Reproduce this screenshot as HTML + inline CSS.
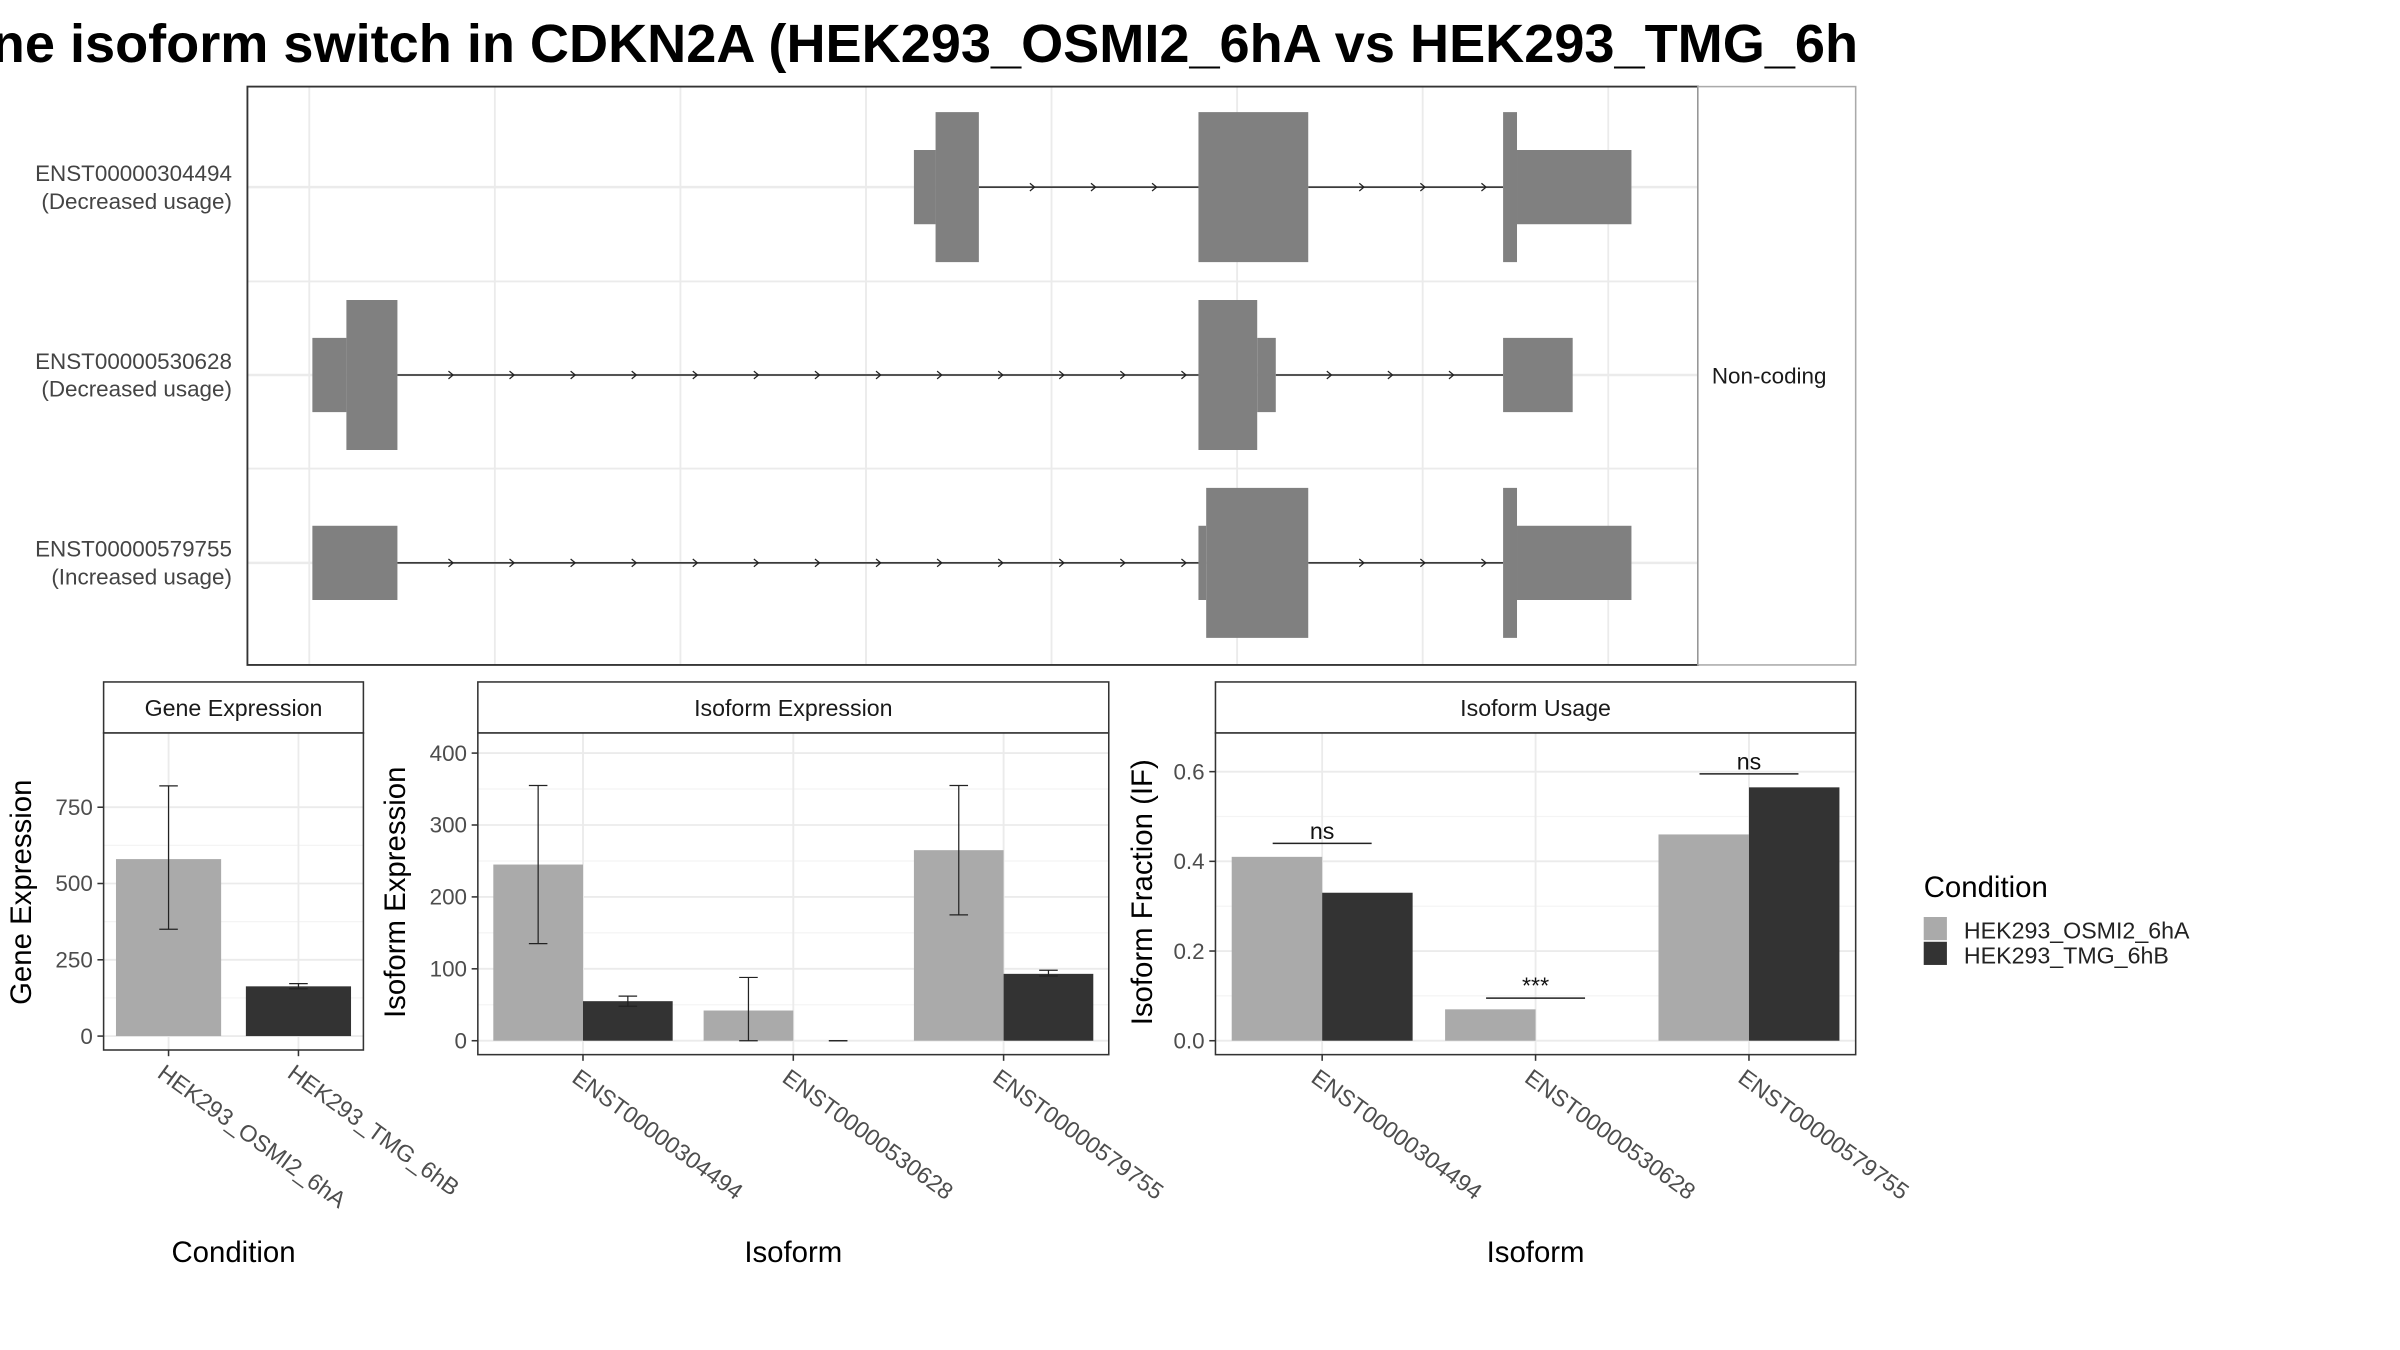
<!DOCTYPE html>
<html><head><meta charset="utf-8"><style>
html,body{margin:0;padding:0;background:#fff;}
svg{display:block;font-family:"Liberation Sans",sans-serif;}
</style></head><body>
<svg id="c" width="2400" height="1350" viewBox="0 0 1552 873">
<text x="-52" y="40" font-size="35" font-weight="bold" fill="#000">Gene isoform switch in CDKN2A (HEK293_OSMI2_6hA vs HEK293_TMG_6h</text>
<g id="topPanel"></g>
<g id="bot"></g>
<g>
<text x="1244" y="580" font-size="19" fill="#000">Condition</text>
<rect x="1244" y="593" width="15" height="15" fill="#aaaaaa"/>
<rect x="1244" y="609" width="15" height="15" fill="#333333"/>
<text x="1270" y="607" font-size="15" fill="#222">HEK293_OSMI2_6hA</text>
<text x="1270" y="623" font-size="15" fill="#222">HEK293_TMG_6hB</text>
</g>
</svg>
<script>
const NS="http://www.w3.org/2000/svg";
function mk(p,t,a,txt){const e=document.createElementNS(NS,t);for(const k in a)e.setAttribute(k,a[k]);if(txt!=null)e.textContent=txt;p.appendChild(e);return e;}
const transcripts=["ENST00000304494","ENST00000530628","ENST00000579755"];
const usageLabels=["(Decreased usage)","(Decreased usage)","(Increased usage)"];
const exons=[
 [[591,605,0],[605,633,1],[775,846,1],[972,981,1],[981,1055,0]],
 [[202,224,0],[224,257,1],[775,813,1],[813,825,0],[972,1017,0]],
 [[202,257,0],[775,780,0],[780,846,1],[972,981,1],[981,1055,0]]
];
const geneCats=["HEK293_OSMI2_6hA","HEK293_TMG_6hB"];
const geneVals=[580,163];
const geneLo=[350,155];
const geneHi=[820,172];
const geneTicks=[0,250,500,750];
const isoCats=["ENST00000304494","ENST00000530628","ENST00000579755"];
const isoExpA=[245,42,265];
const isoExpB=[55,0,93];
const isoExpLoA=[135,0,175], isoExpHiA=[355,88,355];
const isoExpLoB=[48,0,90], isoExpHiB=[62,0,98];
const isoExpTicks=[0,100,200,300,400];
const ifA=[0.41,0.07,0.46];
const ifB=[0.33,0,0.565];
const ifTicks=[0,0.2,0.4,0.6];
const ifTickLabels=["0.0","0.2","0.4","0.6"];
const sigLabels=["ns","***","ns"];
const sigY=[0.44,0.095,0.595];
const colA="#aaaaaa",colB="#333333";

const topG=document.getElementById('topPanel');
const X0=160,X1=1098,Y0=56,Y1=430;
mk(topG,'rect',{x:X0,y:Y0,width:X1-X0,height:Y1-Y0,fill:'#fff'});
for(let gx=200;gx<=1040;gx+=120){const l=mk(topG,'line',{x1:gx,x2:gx,y1:Y0,y2:Y1,stroke:'#ebebeb','stroke-width':1.2});}
const rowY=i=>121+i*121.5;
[182,303].forEach(y=>mk(topG,'line',{x1:X0,x2:X1,y1:y,y2:y,stroke:'#ebebeb','stroke-width':1.2}));
transcripts.forEach((t,i)=>{
 const y=rowY(i);
 mk(topG,'line',{x1:X0,x2:X1,y1:y,y2:y,stroke:'#ebebeb','stroke-width':1.6});
 const ex=exons[i];
 for(let j=0;j<ex.length-1;j++){
  const a=ex[j][1],b=ex[j+1][0];
  if(b-a>2){
   const ln=mk(topG,'line',{x1:a,x2:b,y1:y,y2:y,stroke:'#222','stroke-width':1});
   
   
   for(let ax=a+36;ax<=b;ax+=39.5){mk(topG,'path',{d:`M${ax-3},${y-2.5}L${ax},${y}L${ax-3},${y+2.5}`,fill:'none',stroke:'#222','stroke-width':0.8});}
  }
 }
 ex.forEach(e=>{const h=e[2]?48.5:24;const r=mk(topG,'rect',{x:e[0],y:y-h,width:e[1]-e[0],height:2*h,fill:'#808080'});
  
  });
 const lb=mk(topG,'text',{x:150,y:y-4,'font-size':14.5,fill:'#444','text-anchor':'end'},t);
 
 
 mk(topG,'text',{x:150,y:y+14,'font-size':14.5,fill:'#444','text-anchor':'end'},usageLabels[i]);
});
mk(topG,'rect',{x:X0,y:Y0,width:X1-X0,height:Y1-Y0,fill:'none',stroke:'#333','stroke-width':1.2});
mk(topG,'rect',{x:X1,y:Y0,width:102,height:Y1-Y0,fill:'#fff',stroke:'#aaa','stroke-width':1});
const nc=mk(topG,'text',{x:1107,y:248,'font-size':14.5,fill:'#1a1a1a'},'Non-coding');



const bot=document.getElementById('bot');
function panel(o){
 const g=mk(bot,'g',{});
 
 
 const ys=v=>o.y0-(v-o.vmin)/(o.vmax-o.vmin)*(o.y0-o.y1);
 mk(g,'rect',{x:o.l,y:441,width:o.r-o.l,height:33,fill:'#fff',stroke:'#333','stroke-width':1});
 mk(g,'text',{x:(o.l+o.r)/2,y:463,'font-size':15,'text-anchor':'middle',fill:'#1a1a1a'},o.title);
 mk(g,'rect',{x:o.l,y:474,width:o.r-o.l,height:o.b-474,fill:'#fff'});
 o.ticks.forEach((t,i)=>{const y=ys(t);
  mk(g,'line',{x1:o.l,x2:o.r,y1:y,y2:y,stroke:'#ebebeb','stroke-width':1.2});
  if(i<o.ticks.length-1){const ym=ys((t+o.ticks[i+1])/2);mk(g,'line',{x1:o.l,x2:o.r,y1:ym,y2:ym,stroke:'#f4f4f4','stroke-width':0.8});}
  mk(g,'line',{x1:o.l-4,x2:o.l,y1:y,y2:y,stroke:'#333'});
  const tl=mk(g,'text',{x:o.l-7,y:y+5,'font-size':14.5,'text-anchor':'end',fill:'#4d4d4d'},o.tickLabels?o.tickLabels[i]:t);
  
  
 });
 const n=o.cats.length,step=(o.r-o.l)/n;
 o.cats.forEach((c,i)=>{
  const cx=o.l+step*(i+0.5);
  mk(g,'line',{x1:cx,x2:cx,y1:474,y2:o.b,stroke:'#ebebeb','stroke-width':1.2});
  mk(g,'line',{x1:cx,x2:cx,y1:o.b,y2:o.b+4,stroke:'#333'});
  const tl=mk(g,'text',{x:cx-8,y:o.b+17,'font-size':15,fill:'#4d4d4d',transform:`rotate(36 ${cx-8} ${o.b+17})`},c);
  
  
 });
 o.series.forEach((s,si)=>{
  o.cats.forEach((c,i)=>{
   const cx=o.l+step*(i+0.5);
   const bx=o.grouped?(si==0?cx-o.bw:cx):cx-o.bw/2;
   const v=s.vals[i];
   const col=Array.isArray(s.col)?s.col[i]:s.col;
   const r=mk(g,'rect',{x:bx,y:ys(v),width:o.bw,height:Math.max(0,ys(0)-ys(v)),fill:col});
   
   
   if(s.lo){const ex=bx+o.bw/2;
    mk(g,'line',{x1:ex,x2:ex,y1:ys(s.lo[i]),y2:ys(s.hi[i]),stroke:'#222','stroke-width':0.8});
    [s.lo[i],s.hi[i]].forEach(v2=>mk(g,'line',{x1:ex-6,x2:ex+6,y1:ys(v2),y2:ys(v2),stroke:'#222','stroke-width':0.8}));}
  });
 });
 if(o.sig){o.cats.forEach((c,i)=>{const cx=o.l+step*(i+0.5);const y=ys(o.sigY[i]);
  mk(g,'line',{x1:cx-32,x2:cx+32,y1:y,y2:y,stroke:'#222','stroke-width':1});
  const st=mk(g,'text',{x:cx,y:y-3,'font-size':15,'text-anchor':'middle',fill:'#111'},o.sig[i]);
  
  });}
 mk(g,'rect',{x:o.l,y:474,width:o.r-o.l,height:o.b-474,fill:'none',stroke:'#333','stroke-width':1});
 const yt=mk(g,'text',{x:o.ytx,y:577,'font-size':19,'text-anchor':'middle',fill:'#000',transform:`rotate(-90 ${o.ytx} 577)`},o.ytitle);
 
 
 const xt=mk(g,'text',{x:(o.l+o.r)/2,y:816,'font-size':19,'text-anchor':'middle',fill:'#000'},o.xtitle);
 
 
}
panel({name:'gene-expression-panel',title:'Gene Expression',l:67,r:235,b:679,y0:670,y1:522,vmin:0,vmax:750,ticks:geneTicks,cats:geneCats,bw:68,grouped:false,
 series:[{vals:geneVals,col:[colA,colB],lo:geneLo,hi:geneHi}],
 ytitle:'Gene Expression',ytx:20,xtitle:'Condition'});
panel({name:'isoform-expression-panel',title:'Isoform Expression',l:309,r:717,b:682,y0:673,y1:487,vmin:0,vmax:400,ticks:isoExpTicks,cats:isoCats,bw:58,grouped:true,
 series:[{vals:isoExpA,col:colA,lo:isoExpLoA,hi:isoExpHiA},{vals:isoExpB,col:colB,lo:isoExpLoB,hi:isoExpHiB}],
 ytitle:'Isoform Expression',ytx:262,xtitle:'Isoform'});
panel({name:'isoform-usage-panel',title:'Isoform Usage',l:786,r:1200,b:682,y0:673,y1:499,vmin:0,vmax:0.6,ticks:ifTicks,tickLabels:ifTickLabels,cats:isoCats,bw:58.5,grouped:true,
 series:[{vals:ifA,col:colA},{vals:ifB,col:colB}],sig:sigLabels,sigY:sigY,
 ytitle:'Isoform Fraction (IF)',ytx:745,xtitle:'Isoform'});
</script>
</body></html>
